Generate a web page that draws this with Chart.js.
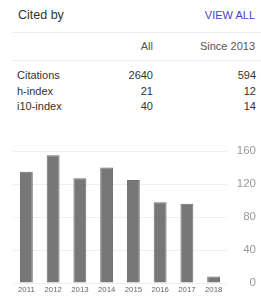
<!DOCTYPE html>
<html><head><meta charset="utf-8">
<script src="https://cdn.jsdelivr.net/npm/chart.js@4"></script>
<style>
html,body{margin:0;padding:0;background:#fff;width:261px;height:296px;overflow:hidden;font-family:"Liberation Sans",Arial,sans-serif;}
.t{position:absolute;white-space:nowrap;line-height:1;}
.hr{position:absolute;left:12px;right:0;height:1px;background:#ececec;}
#wrap{position:absolute;left:0;top:140px;width:261px;height:156px;}
</style></head><body>
<div class="t" style="left:18px;top:9px;font-size:12.5px;color:#333;">Cited by</div>
<div class="t" style="right:6px;top:10px;font-size:11px;color:#4a3fcf;">VIEW ALL</div>
<div class="hr" style="top:32px"></div>
<div class="t" style="right:108px;top:41px;font-size:11px;color:#555;">All</div>
<div class="t" style="right:6px;top:41px;font-size:11px;color:#555;">Since 2013</div>
<div class="hr" style="top:60px"></div>
<div id="rows"></div>
<div id="wrap"><canvas id="c" width="261" height="156"></canvas></div>
<script>
const statLabels = ["Citations","h-index","i10-index"];
const statAll = [2640,21,40];
const statSince = [594,12,14];
const years = ["2011","2012","2013","2014","2015","2016","2017","2018"];
const cites = [135,155,127,140,125,98,96,8];
const yTicks = [0,40,80,120,160];

const rows = document.getElementById('rows');
statLabels.forEach((l,i)=>{
  const top = 70 + i*15.5;
  rows.insertAdjacentHTML('beforeend',
    `<div class="t" style="left:17px;top:${top}px;font-size:11px;color:#333;">${l}</div>`+
    `<div class="t" style="right:108px;top:${top}px;font-size:11px;color:#333;">${statAll[i]}</div>`+
    `<div class="t" style="right:5px;top:${top}px;font-size:11px;color:#333;">${statSince[i]}</div>`);
});

new Chart(document.getElementById('c'), {
  type:'bar',
  data:{labels:years,datasets:[{data:cites,backgroundColor:'#777777',borderColor:'#6e6e6e',borderWidth:1,barPercentage:0.48,categoryPercentage:1}]},
  options:{
    responsive:false,animation:false,
    layout:{padding:{top:11,left:13,right:5,bottom:0}},
    plugins:{legend:{display:false},tooltip:{enabled:false}},
    scales:{
      x:{grid:{display:false,drawTicks:false},border:{display:false},
         ticks:{color:'#666',font:{family:'Liberation Sans',size:7.8},padding:2,maxRotation:0,autoSkip:false},
         afterFit:s=>{s.height=13;}},
      y:{position:'right',min:0,max:160,
         afterBuildTicks:s=>{s.ticks=yTicks.map(v=>({value:v}));},
         grid:{color:'#efefef',drawTicks:false},border:{display:false},
         ticks:{color:'#999',font:{family:'Liberation Sans',size:11.5},padding:0,crossAlign:'far'},
         afterFit:s=>{s.width=29;}}
    }
  }
});
</script>
</body></html>
